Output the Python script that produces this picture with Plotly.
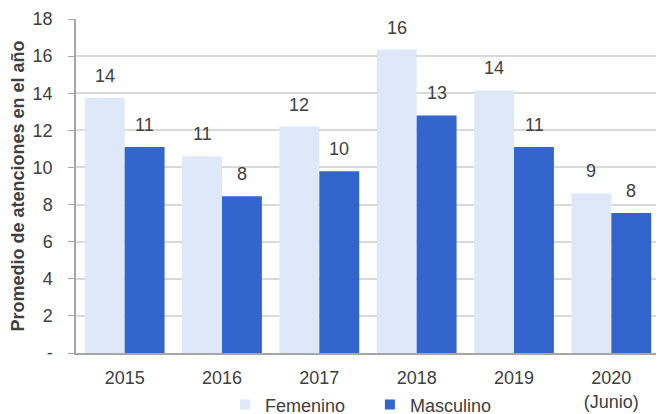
import plotly.graph_objects as go

years = ["2015", "2016", "2017", "2018", "2019", "2020<br>(Junio)"]
femenino = [13.75, 10.6, 12.2, 16.35, 14.15, 8.6]
masculino = [11.1, 8.45, 9.8, 12.8, 11.1, 7.55]

y_ticks = [0, 2, 4, 6, 8, 10, 12, 14, 16, 18]
y_labels = ["-", "2", "4", "6", "8", "10", "12", "14", "16", "18"]

FEM_COLOR = "#dfe8f8"
MASC_COLOR = "#3366cc"
TEXT = "#404040"

fig = go.Figure()
fig.add_trace(go.Bar(name="Femenino", x=years, y=femenino, showlegend=False,
                     marker=dict(color=FEM_COLOR, line=dict(width=0))))
fig.add_trace(go.Bar(name="Masculino", x=years, y=masculino, showlegend=False,
                     marker=dict(color=MASC_COLOR, line=dict(width=0))))

# legend entries with small square keys
for name, col in (("Femenino", FEM_COLOR), ("Masculino", MASC_COLOR)):
    fig.add_trace(go.Scatter(name=name, x=[years[0]], y=[None], mode="markers",
                             marker=dict(symbol="square", size=10, color=col)))

# data labels above each bar (rounded); x given as category index
for i in range(len(years)):
    for val, xs in ((femenino[i], -20), (masculino[i], 20)):
        fig.add_annotation(x=i, y=val, text=str(round(val)), showarrow=False,
                           xshift=xs, yshift=22,
                           font=dict(size=18, color=TEXT))

# page body adds an 8px offset, so the figure is a bit smaller than the window
fig.update_layout(
    width=656, height=406,
    margin=dict(l=68, r=4, t=11, b=61, autoexpand=False),
    paper_bgcolor="white", plot_bgcolor="white",
    font=dict(family="Liberation Sans, Arial, sans-serif", size=18, color=TEXT),
    barmode="group", bargap=0.18, bargroupgap=0,
    showlegend=True,
    legend=dict(orientation="h", x=0.255, xanchor="left", y=-0.155, yanchor="middle",
                font=dict(size=18, color=TEXT), entrywidth=100,
                itemwidth=30, tracegroupgap=0),
    xaxis=dict(type="category", showline=True, linecolor="#a6a6a6", linewidth=1.5,
               automargin=False,
               ticks="", tickfont=dict(size=18, color=TEXT), ticklabelstandoff=8),
    yaxis=dict(range=[0, 18], tickvals=y_ticks, ticktext=y_labels,
               showgrid=True, gridcolor="#d9d9d9", gridwidth=1.5,
               showline=True, linecolor="#a6a6a6", linewidth=1.5,
               ticks="outside", ticklen=6, tickcolor="#a6a6a6",
               zeroline=False, ticklabelstandoff=12, automargin=False,
               tickfont=dict(size=18, color=TEXT),
               title=dict(text="<b>Promedio de atenciones en el año</b>",
                          font=dict(size=18, color=TEXT), standoff=6)),
)

fig.write_html("out.html")
